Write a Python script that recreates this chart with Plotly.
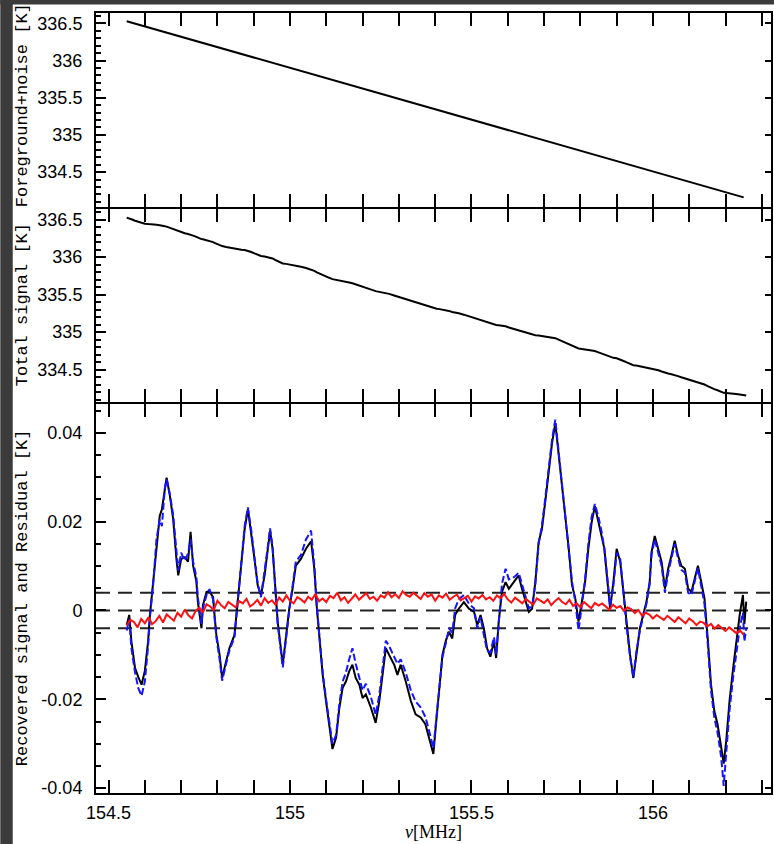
import numpy as np
import plotly.graph_objects as go

# ---------------- data ----------------
# foreground + noise brightness temperature [K]
freq_fg = [154.55, 154.65, 154.75, 154.85, 154.95, 155.05, 155.15, 155.25, 155.35,
           155.45, 155.55, 155.65, 155.75, 155.85, 155.95, 156.05, 156.15, 156.25]
foreground = [336.53, 336.39, 336.25, 336.11, 335.97, 335.83, 335.69, 335.55, 335.41,
              335.27, 335.13, 334.99, 334.85, 334.71, 334.57, 334.43, 334.29, 334.16]

# frequencies of the recovered / input 21-cm signal [MHz]
freq_sig = [
    154.550, 154.557, 154.563, 154.573, 154.582, 154.591, 154.600, 154.609, 154.614, 154.623,
    154.632, 154.641, 154.647, 154.655, 154.660, 154.669, 154.678, 154.687, 154.692, 154.700,
    154.710, 154.719, 154.726, 154.733, 154.742, 154.746, 154.756, 154.760, 154.770, 154.778,
    154.788, 154.792, 154.797, 154.806, 154.813, 154.824, 154.833, 154.847, 154.856, 154.866,
    154.875, 154.884, 154.893, 154.902, 154.911, 154.920, 154.930, 154.939, 154.945, 154.952,
    154.959, 154.966, 154.980, 154.989, 154.998, 155.007, 155.016, 155.030, 155.044, 155.058,
    155.067, 155.074, 155.081, 155.090, 155.099, 155.108, 155.117, 155.127, 155.136, 155.145,
    155.154, 155.163, 155.172, 155.181, 155.191, 155.200, 155.209, 155.223, 155.236, 155.246,
    155.255, 155.264, 155.273, 155.287, 155.296, 155.305, 155.319, 155.333, 155.346, 155.360,
    155.373, 155.383, 155.395, 155.404, 155.412, 155.420, 155.429, 155.438, 155.447, 155.455,
    155.465, 155.479, 155.493, 155.507, 155.516, 155.525, 155.534, 155.543, 155.552, 155.562,
    155.568, 155.575, 155.584, 155.594, 155.603, 155.617, 155.630, 155.639, 155.649, 155.658,
    155.667, 155.676, 155.685, 155.694, 155.703, 155.712, 155.722, 155.731, 155.740, 155.749,
    155.758, 155.768, 155.777, 155.786, 155.795, 155.804, 155.813, 155.822, 155.831, 155.840,
    155.850, 155.859, 155.866, 155.873, 155.882, 155.891, 155.900, 155.910, 155.919, 155.928,
    155.937, 155.946, 155.954, 155.964, 155.973, 155.982, 155.991, 155.996, 156.005, 156.015,
    156.024, 156.033, 156.042, 156.051, 156.060, 156.069, 156.078, 156.088, 156.097, 156.106,
    156.115, 156.124, 156.133, 156.142, 156.151, 156.160, 156.169, 156.178, 156.188, 156.195,
    156.202, 156.211, 156.221, 156.229, 156.239, 156.248, 156.252, 156.257,
]

# recovered signal [K] (black)
recovered = [
    -0.0033, -0.0010, -0.0070, -0.0130, -0.0150, -0.0167, -0.0136, -0.0069, -0.0010, 0.0065,
    0.0154, 0.0213, 0.0228, 0.0280, 0.0299, 0.0258, 0.0206, 0.0116, 0.0079, 0.0116,
    0.0120, 0.0110, 0.0177, 0.0101, 0.0065, 0.0020, -0.0040, 0.0012, 0.0042, 0.0043,
    0.0030, -0.0010, -0.0055, -0.0100, -0.0152, -0.0114, -0.0085, -0.0055, 0.0020, 0.0094,
    0.0183, 0.0228, 0.0177, 0.0116, 0.0057, 0.0034, 0.0079, 0.0139, 0.0180, 0.0139,
    0.0050, -0.0025, -0.0122, -0.0055, 0.0005, 0.0049, 0.0101, 0.0116, 0.0139, 0.0156,
    0.0094, 0.0005, -0.0069, -0.0145, -0.0203, -0.0256, -0.0312, -0.0286, -0.0219, -0.0174,
    -0.0160, -0.0137, -0.0122, -0.0152, -0.0167, -0.0197, -0.0189, -0.0219, -0.0253, -0.0204,
    -0.0145, -0.0085, -0.0100, -0.0122, -0.0145, -0.0122, -0.0160, -0.0204, -0.0234, -0.0241,
    -0.0256, -0.0286, -0.0323, -0.0240, -0.0160, -0.0100, -0.0069, -0.0048, -0.0063, -0.0010,
    0.0004, 0.0019, 0.0004, -0.0003, -0.0033, -0.0010, -0.0040, -0.0085, -0.0104, -0.0070,
    -0.0107, -0.0025, 0.0042, 0.0064, 0.0049, 0.0064, 0.0079, 0.0049, 0.0019, -0.0003,
    0.0004, 0.0064, 0.0154, 0.0183, 0.0243, 0.0310, 0.0377, 0.0422, 0.0355, 0.0280,
    0.0206, 0.0139, 0.0057, 0.0027, -0.0025, 0.0019, 0.0064, 0.0139, 0.0198, 0.0235,
    0.0198, 0.0168, 0.0140, 0.0079, 0.0004, 0.0064, 0.0139, 0.0109, 0.0034, -0.0033,
    -0.0100, -0.0152, -0.0100, -0.0040, -0.0010, 0.0019, 0.0064, 0.0131, 0.0168, 0.0139,
    0.0109, 0.0049, 0.0094, 0.0124, 0.0157, 0.0124, 0.0101, 0.0094, 0.0049, 0.0042,
    0.0072, 0.0101, 0.0064, 0.0027, -0.0063, -0.0167, -0.0226, -0.0256, -0.0308, -0.0345,
    -0.0293, -0.0204, -0.0130, -0.0070, -0.0010, 0.0035, -0.0030, 0.0020,
]

# input (true) signal [K] (blue dashed)
input_signal = [
    -0.0045, -0.0020, -0.0085, -0.0140, -0.0175, -0.0192, -0.0160, -0.0080, -0.0015, 0.0060,
    0.0160, 0.0205, 0.0190, 0.0275, 0.0295, 0.0262, 0.0215, 0.0125, 0.0090, 0.0130,
    0.0112, 0.0128, 0.0160, 0.0110, 0.0075, 0.0030, -0.0030, 0.0005, 0.0035, 0.0048,
    0.0025, -0.0015, -0.0060, -0.0110, -0.0158, -0.0120, -0.0090, -0.0060, 0.0015, 0.0100,
    0.0190, 0.0232, 0.0182, 0.0120, 0.0060, 0.0030, 0.0085, 0.0145, 0.0185, 0.0142,
    0.0055, -0.0030, -0.0128, -0.0060, 0.0000, 0.0055, 0.0110, 0.0125, 0.0160, 0.0180,
    0.0100, 0.0008, -0.0065, -0.0140, -0.0198, -0.0250, -0.0300, -0.0280, -0.0210, -0.0160,
    -0.0140, -0.0110, -0.0085, -0.0120, -0.0150, -0.0180, -0.0165, -0.0195, -0.0235, -0.0190,
    -0.0130, -0.0068, -0.0080, -0.0105, -0.0120, -0.0110, -0.0140, -0.0180, -0.0205, -0.0218,
    -0.0240, -0.0270, -0.0310, -0.0235, -0.0165, -0.0105, -0.0075, -0.0040, -0.0050, 0.0005,
    0.0025, 0.0035, 0.0015, 0.0005, -0.0040, -0.0015, -0.0055, -0.0090, -0.0095, -0.0060,
    -0.0100, -0.0020, 0.0060, 0.0094, 0.0070, 0.0075, 0.0085, 0.0060, 0.0030, 0.0005,
    0.0010, 0.0060, 0.0150, 0.0190, 0.0250, 0.0318, 0.0385, 0.0430, 0.0360, 0.0285,
    0.0215, 0.0145, 0.0065, 0.0020, -0.0045, 0.0010, 0.0070, 0.0150, 0.0210, 0.0240,
    0.0210, 0.0175, 0.0140, 0.0085, 0.0010, 0.0055, 0.0130, 0.0115, 0.0030, -0.0040,
    -0.0105, -0.0150, -0.0095, -0.0045, -0.0015, 0.0015, 0.0060, 0.0125, 0.0160, 0.0130,
    0.0100, 0.0040, 0.0085, 0.0118, 0.0150, 0.0118, 0.0092, 0.0085, 0.0040, 0.0035,
    0.0065, 0.0095, 0.0055, 0.0015, -0.0075, -0.0180, -0.0240, -0.0275, -0.0330, -0.0395,
    -0.0320, -0.0225, -0.0150, -0.0095, -0.0040, -0.0005, -0.0070, -0.0040,
]

# residual [K] (red), sampled every 0.01 MHz from 154.55 to 156.25
freq_res = np.round(np.linspace(154.55, 156.25, 171), 3)
residual = [
    -0.0034, -0.0021, -0.0026, -0.0038, -0.0019, -0.0029, -0.0015, -0.0031, -0.0024, -0.0012,
    -0.0027, -0.0009, -0.0016, -0.0023, -0.0005, -0.0014, 0.0002, -0.0011, -0.0018, -0.0001,
    0.0006, -0.0005, 0.0014, 0.0009, 0.0001, 0.0022, 0.0012, 0.0005, 0.0019, 0.0013,
    0.0007, 0.0021, 0.0016, 0.0026, 0.0009, 0.0015, 0.0024, 0.0011, 0.0028, 0.0017,
    0.0023, 0.0013, 0.0029, 0.0020, 0.0034, 0.0022, 0.0016, 0.0030, 0.0025, 0.0018,
    0.0031, 0.0024, 0.0037, 0.0021, 0.0027, 0.0019, 0.0033, 0.0028, 0.0040, 0.0023,
    0.0030, 0.0017, 0.0027, 0.0036, 0.0024, 0.0032, 0.0039, 0.0026, 0.0031, 0.0022,
    0.0034, 0.0029, 0.0041, 0.0030, 0.0037, 0.0028, 0.0043, 0.0035, 0.0031, 0.0040,
    0.0033, 0.0026, 0.0039, 0.0031, 0.0036, 0.0022, 0.0034, 0.0029, 0.0038, 0.0024,
    0.0031, 0.0036, 0.0023, 0.0029, 0.0033, 0.0020, 0.0032, 0.0027, 0.0035, 0.0025,
    0.0030, 0.0022, 0.0034, 0.0028, 0.0037, 0.0025, 0.0018, 0.0029, 0.0023, 0.0016,
    0.0026, 0.0020, 0.0013, 0.0027, 0.0022, 0.0017, 0.0025, 0.0012, 0.0021, 0.0028,
    0.0019, 0.0014, 0.0024, 0.0010, 0.0016, 0.0007, 0.0019, 0.0013, 0.0005, 0.0017,
    0.0011, 0.0016, 0.0008, 0.0002, 0.0013, 0.0006, 0.0010, -0.0001, 0.0007, 0.0003,
    -0.0006, 0.0001, -0.0012, -0.0005, -0.0009, -0.0018, -0.0010, -0.0015, -0.0021, -0.0012,
    -0.0019, -0.0026, -0.0015, -0.0022, -0.0029, -0.0018, -0.0024, -0.0033, -0.0025, -0.0028,
    -0.0036, -0.0030, -0.0041, -0.0033, -0.0039, -0.0046, -0.0038, -0.0044, -0.0051, -0.0045,
    -0.0055,
]

# residual tolerance band and zero line [K]
band_levels = [0.004, 0.0, -0.004]

# axis ticks
fg_ticks = [334.5, 335, 335.5, 336, 336.5]
sig_tickvals = [-0.04, -0.02, 0.0, 0.02, 0.04]
sig_ticktext = ["-0.04", "-0.02", "0", "0.02", "0.04"]

# total signal = foreground(+noise) + input signal
total_signal = np.interp(freq_sig, freq_fg, foreground) + np.array(input_signal)

# ---------------- figure ----------------
W, H = 774, 844
L, R, T, B = 96, 1, 13, 51
pw, ph = W - L - R, H - T - B
LW = 2  # frame line width


def px_x(x):
    return (x - L) / pw


def px_y(y):
    return (H - B - y) / ph


# panel domains (pixel rows); a gap of LW lets neighbouring frame lines coincide
domains = [
    [px_y(207), px_y(13)],
    [px_y(402), px_y(207 + LW)],
    [px_y(793), px_y(402 + LW)],
]

fig = go.Figure()
line_kw = dict(mode="lines", showlegend=False, hoverinfo="skip")
fig.add_trace(go.Scatter(x=freq_fg, y=foreground, xaxis="x", yaxis="y",
                         line=dict(color="black", width=2), **line_kw))
fig.add_trace(go.Scatter(x=freq_sig, y=total_signal, xaxis="x2", yaxis="y2",
                         line=dict(color="black", width=2), **line_kw))
fig.add_trace(go.Scatter(x=freq_sig, y=recovered, xaxis="x3", yaxis="y3",
                         line=dict(color="black", width=2), **line_kw))
fig.add_trace(go.Scatter(x=freq_sig, y=input_signal, xaxis="x3", yaxis="y3",
                         line=dict(color="#1414ff", width=2, dash="7px,3px"), **line_kw))
fig.add_trace(go.Scatter(x=freq_res, y=residual, xaxis="x3", yaxis="y3",
                         line=dict(color="#ff1010", width=2), **line_kw))

for lvl in band_levels:
    fig.add_shape(type="line", xref="x3 domain", yref="y3", x0=0, x1=1, y0=lvl, y1=lvl,
                  line=dict(color="#222222", width=2, dash="14px,8px"), layer="below")

tick_font = dict(family="Liberation Sans, Arial, sans-serif", size=18, color="black")
x_range = [154.4654, 156.3253]
y_ranges = [[334.03, 336.64], [334.07, 336.64], [-0.0411, 0.0465]]

layout_axes = {}
for i in range(3):
    sfx = "" if i == 0 else str(i + 1)
    layout_axes[f"xaxis{sfx}"] = dict(
        domain=[0, 1], anchor=f"y{sfx}", range=x_range,
        tickmode="linear", tick0=154.5, dtick=0.5,
        ticks="inside", ticklen=13, tickwidth=1.5, tickcolor="black",
        minor=dict(tickmode="linear", tick0=154.5, dtick=0.1, ticks="inside",
                   ticklen=7, tickwidth=1.5, tickcolor="black"),
        showline=True, linecolor="black", linewidth=LW, mirror="allticks",
        showgrid=False, zeroline=False, tickfont=tick_font,
        showticklabels=(i == 2), ticklabelstandoff=2,
    )
    if i > 0:
        layout_axes[f"xaxis{sfx}"]["matches"] = "x"
    if i < 2:
        ydict = dict(tickmode="linear", tick0=334.5, dtick=0.5,
                     minor=dict(tickmode="linear", tick0=334.0, dtick=0.1,
                                ticks="inside", ticklen=5, tickwidth=1.5,
                                tickcolor="black"))
    else:
        ydict = dict(tickmode="array", tickvals=sig_tickvals, ticktext=sig_ticktext,
                     minor=dict(tickmode="linear", tick0=0, dtick=0.005,
                                ticks="inside", ticklen=5, tickwidth=1.5,
                                tickcolor="black"))
    layout_axes[f"yaxis{sfx}"] = dict(
        domain=domains[i], anchor=f"x{sfx}", range=y_ranges[i],
        ticks="inside", ticklen=10, tickwidth=1.5, tickcolor="black",
        showline=True, linecolor="black", linewidth=LW, mirror=True,
        showgrid=False, zeroline=False, tickfont=tick_font, ticklabelstandoff=8,
        **ydict,
    )
    # right-hand frame ticks (major only)
    layout_axes[f"yaxis{4 + i}"] = dict(
        overlaying=f"y{sfx}", anchor=f"x{sfx}", side="right", range=y_ranges[i],
        tickmode="array", tickvals=sig_tickvals if i == 2 else fg_ticks,
        showticklabels=False, ticks="inside", ticklen=6, tickwidth=1.5,
        tickcolor="black", showline=False, showgrid=False, zeroline=False,
    )
    fig.add_trace(go.Scatter(x=[None], y=[None], xaxis=f"x{sfx}", yaxis=f"y{4 + i}",
                             showlegend=False, hoverinfo="skip"))
fig.update_layout(**layout_axes)

# axis titles
title_font = dict(family="Liberation Mono, DejaVu Sans Mono, monospace", size=17,
                  color="black")
for text, yc in [("Foreground+noise [K]", 105), ("Total signal [K]", 305),
                 ("Recovered signal and Residual [K]", 598)]:
    fig.add_annotation(text=text, xref="paper", yref="paper", x=px_x(22), y=px_y(yc),
                       xanchor="center", yanchor="middle", textangle=-90,
                       showarrow=False, font=title_font)

fig.add_annotation(text="<i>ν</i>[MHz]", xref="paper", yref="paper",
                   x=px_x(434), y=px_y(832), xanchor="center", yanchor="middle",
                   showarrow=False,
                   font=dict(family="Liberation Serif, Times New Roman, serif", size=18,
                             color="black"))

# dark frame strips along left and top edges of the page
frame_col = "#3b3b3b"
fig.add_shape(type="rect", xref="paper", yref="paper", x0=px_x(0), x1=px_x(12.5),
              y0=px_y(H + 2), y1=px_y(-2), fillcolor=frame_col, line_width=0, layer="above")
fig.add_shape(type="rect", xref="paper", yref="paper", x0=px_x(0), x1=px_x(W + 2),
              y0=px_y(4.5), y1=px_y(-2), fillcolor=frame_col, line_width=0, layer="above")

fig.update_layout(width=W, height=H, margin=dict(l=L, r=R, t=T, b=B, pad=0),
                  paper_bgcolor="white", plot_bgcolor="white", showlegend=False)

fig.write_html("out.html")
